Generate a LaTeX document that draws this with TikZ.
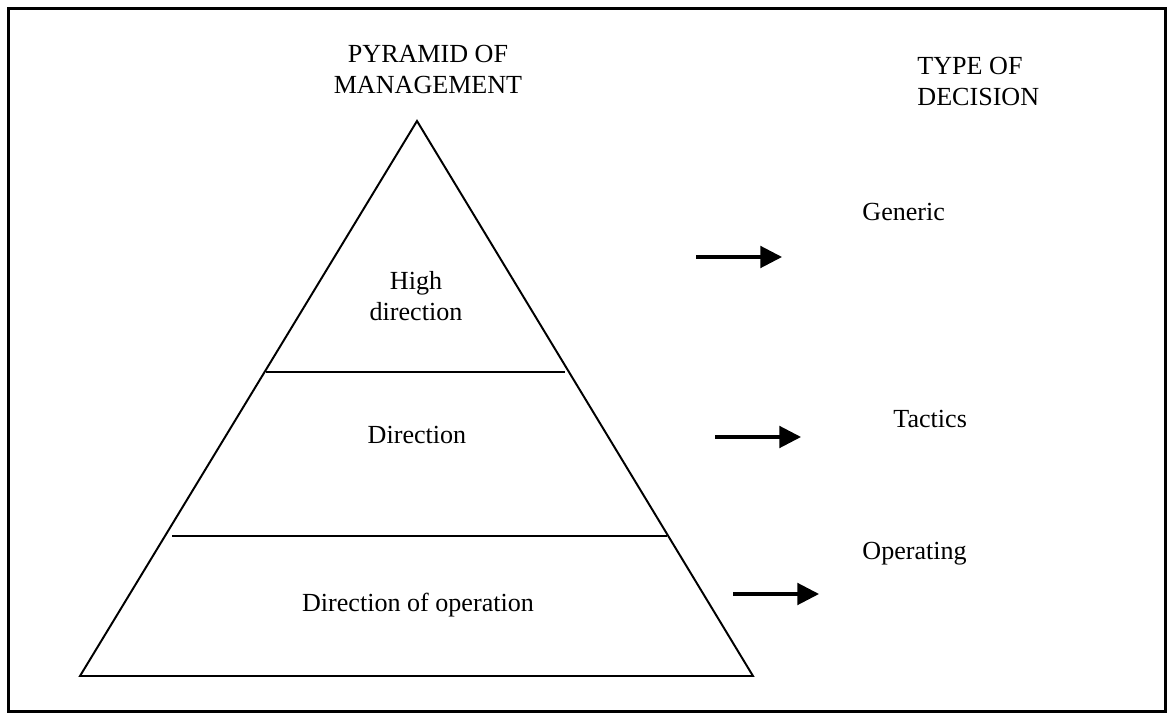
\documentclass[tikz,border=0pt]{standalone}
\usepackage{fontspec}
\setmainfont{Liberation Serif}
\usetikzlibrary{arrows.meta}
\begin{document}
\begin{tikzpicture}[x=0.46pt,y=-0.46pt,
  frame/.style={line width=1.1pt},
  edge/.style={line width=0.9pt,line join=miter},
  level/.style={line width=0.9pt},
  label/.style={font=\fontsize{12}{14.4}\selectfont,inner sep=0pt,align=center},
  lefttext/.style={font=\fontsize{12}{14.4}\selectfont,inner sep=0pt,align=left,anchor=base west},
  pointer/.style={line width=1.4pt,-{Triangle[length=10pt,width=10pt]}}]
\useasboundingbox (0,0) rectangle (1176,716);
\draw[frame] (8.5,8.5) rectangle (1165.5,711.5);
% pyramid
\coordinate (apex) at (417,121);
\coordinate (bl) at (80,676);
\coordinate (br) at (753,676);
\draw[edge] (apex) -- (bl) -- (br) -- cycle;
\coordinate (l1a) at (266,372);
\coordinate (l1b) at (565,372);
\coordinate (l2a) at (172,536);
\coordinate (l2b) at (667,536);
\draw[level] (l1a) -- (l1b);
\draw[level] (l2a) -- (l2b);
% labels (base anchor = baseline of last line)
\node[label,anchor=base] (title) at (428,94) {PYRAMID OF\\MANAGEMENT};
\node[lefttext] (type) at (917,106) {TYPE OF\\DECISION};
\node[label,anchor=base] (high) at (416,321) {High\\direction};
\node[label,anchor=base] (dir) at (417,444) {Direction};
\node[label,anchor=base] (dirop) at (418,612) {Direction of operation};
\node[lefttext] (gen) at (862,221) {Generic};
\node[lefttext] (tac) at (893,428) {Tactics};
\node[lefttext] (op) at (862,560) {Operating};
% arrows
\coordinate (a1s) at (696,257);
\coordinate (a1e) at (782,257);
\coordinate (a2s) at (715,437);
\coordinate (a2e) at (801,437);
\coordinate (a3s) at (733,594);
\coordinate (a3e) at (819,594);
\draw[pointer] (a1s) -- (a1e);
\draw[pointer] (a2s) -- (a2e);
\draw[pointer] (a3s) -- (a3e);
\end{tikzpicture}
\end{document}
